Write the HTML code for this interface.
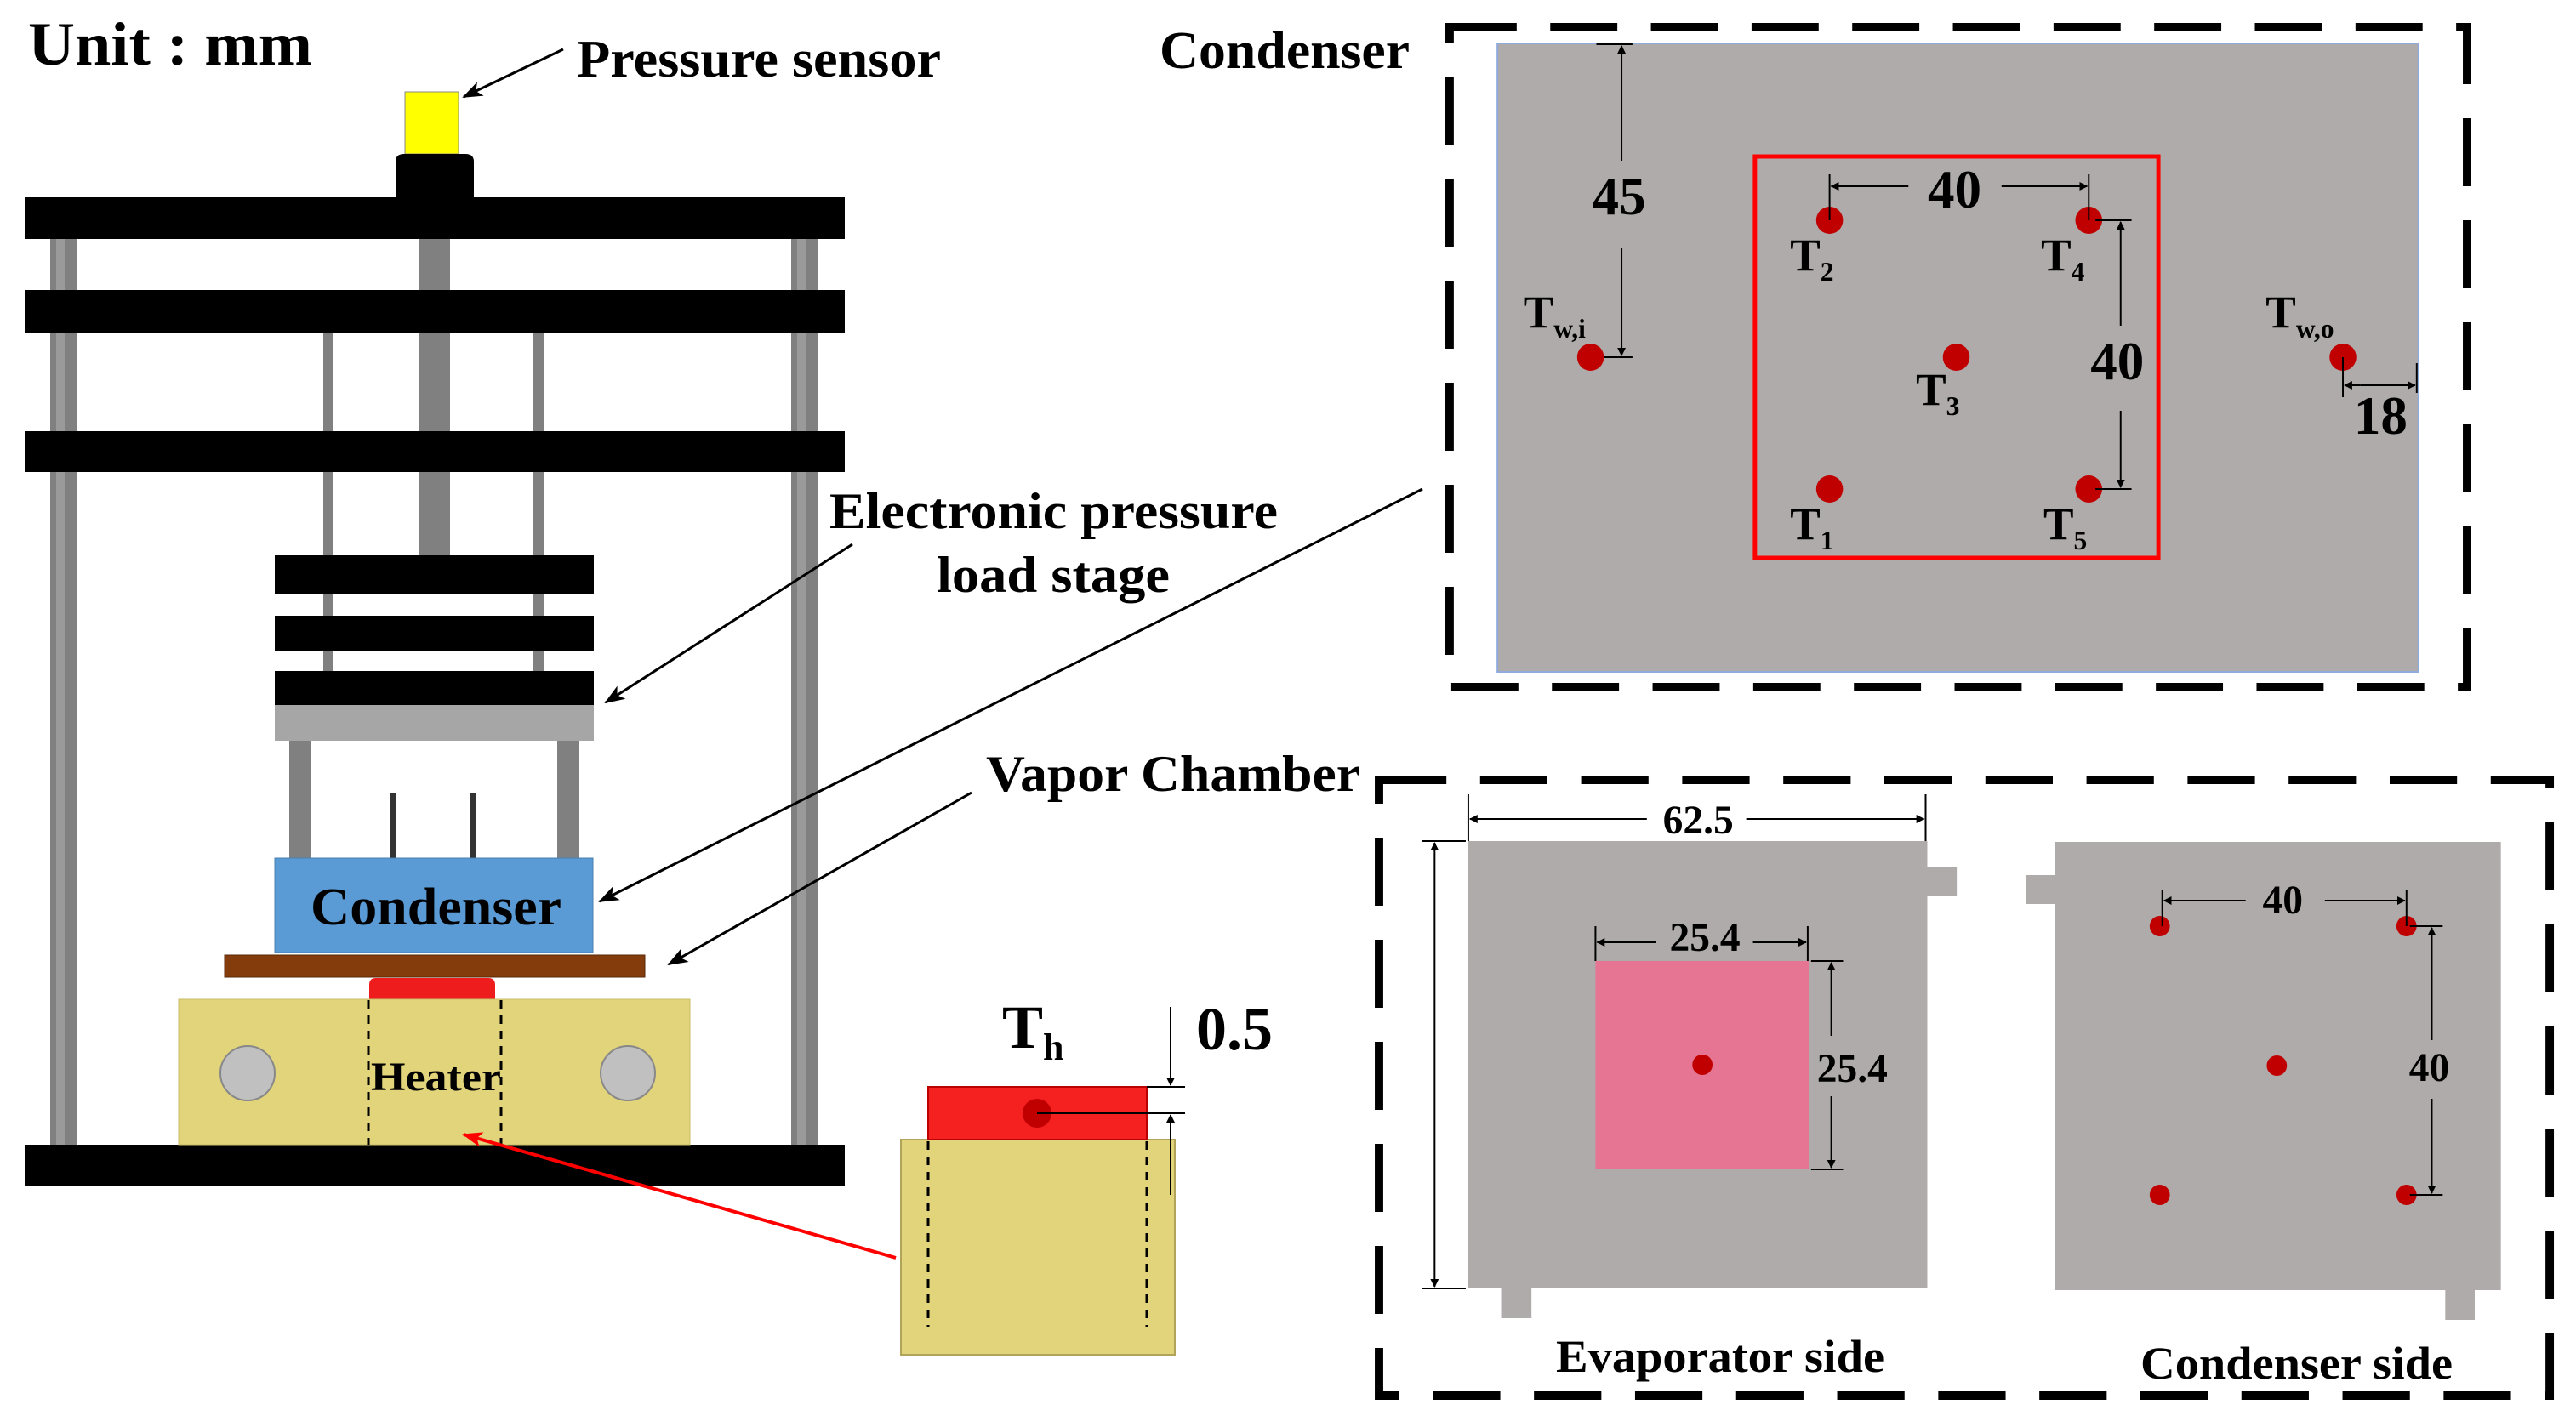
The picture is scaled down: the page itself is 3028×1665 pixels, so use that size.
<!DOCTYPE html>
<html><head><meta charset="utf-8"><style>
html,body{margin:0;padding:0;background:#fff;}
svg{display:block;}
text{font-family:"Liberation Serif",serif;font-weight:bold;fill:#000;}
</style></head><body>
<svg width="3028" height="1665" viewBox="0 0 3028 1665" xmlns="http://www.w3.org/2000/svg">
<defs>
<marker id="ar" markerWidth="10" markerHeight="10" refX="9" refY="5" orient="auto" markerUnits="userSpaceOnUse"><path d="M0,0 L10,5 L0,10 z" fill="#000"/></marker>
<marker id="arb" markerWidth="24" markerHeight="18" refX="22" refY="9" orient="auto" markerUnits="userSpaceOnUse"><path d="M0,0 L24,9 L0,18 L6,9 z" fill="#000"/></marker>
<marker id="arr" markerWidth="24" markerHeight="18" refX="22" refY="9" orient="auto" markerUnits="userSpaceOnUse"><path d="M0,0 L24,9 L0,18 L6,9 z" fill="#f00"/></marker>
</defs>

<!-- LEFT APPARATUS -->
<text x="33" y="76" font-size="72" textLength="334" lengthAdjust="spacingAndGlyphs">Unit : mm</text>
<text x="678" y="90" font-size="62" textLength="428" lengthAdjust="spacingAndGlyphs">Pressure sensor</text>
<line x1="662" y1="58" x2="545" y2="114" stroke="#000" stroke-width="3" marker-end="url(#arb)"/>
<rect x="476" y="108" width="63" height="73" fill="#ffff00" stroke="#888" stroke-width="1"/>
<path d="M465,232 L465,190 Q465,181 475,181 L547,181 Q557,181 557,190 L557,232 z" fill="#000"/>
<rect x="59" y="281" width="31" height="1065" fill="#808080"/>
<rect x="66" y="281" width="10" height="1065" fill="#9a9a9a"/>
<rect x="930" y="281" width="31" height="1065" fill="#808080"/>
<rect x="937" y="281" width="10" height="1065" fill="#9a9a9a"/>
<rect x="493" y="281" width="36" height="372" fill="#808080"/>
<rect x="380" y="391" width="12" height="400" fill="#808080"/>
<rect x="627" y="391" width="12" height="400" fill="#808080"/>
<rect x="29" y="232" width="964" height="49" fill="#000"/>
<rect x="29" y="341" width="964" height="50" fill="#000"/>
<rect x="29" y="507" width="964" height="48" fill="#000"/>
<rect x="29" y="1346" width="964" height="48" fill="#000"/>
<rect x="323" y="653" width="375" height="46" fill="#000"/>
<rect x="323" y="724" width="375" height="41" fill="#000"/>
<rect x="323" y="789" width="375" height="40" fill="#000"/>
<rect x="323" y="829" width="375" height="42" fill="#a6a6a6"/>
<rect x="340" y="871" width="25" height="138" fill="#808080"/>
<rect x="655" y="871" width="26" height="138" fill="#808080"/>
<rect x="459" y="932" width="7" height="77" fill="#333"/>
<rect x="553" y="932" width="7" height="77" fill="#333"/>
<rect x="323" y="1009" width="374" height="111" fill="#5b9bd5" stroke="#4a7fb0" stroke-width="1"/>
<text x="365" y="1087" font-size="62" textLength="295" lengthAdjust="spacingAndGlyphs">Condenser</text>
<rect x="264" y="1123" width="494" height="26" fill="#843c0c" stroke="#5a2a08" stroke-width="1"/>
<path d="M434,1176 L434,1158 Q434,1150 442,1150 L574,1150 Q582,1150 582,1158 L582,1176 z" fill="#ee1c1c"/>
<rect x="210" y="1175" width="601" height="171" fill="#e2d47a" stroke="#c8bb6a" stroke-width="1"/>
<circle cx="291" cy="1262" r="32" fill="#c0c0c0" stroke="#888" stroke-width="2"/>
<circle cx="738" cy="1262" r="32" fill="#c0c0c0" stroke="#888" stroke-width="2"/>
<line x1="433" y1="1176" x2="433" y2="1346" stroke="#000" stroke-width="3" stroke-dasharray="10,8"/>
<line x1="589" y1="1176" x2="589" y2="1346" stroke="#000" stroke-width="3" stroke-dasharray="10,8"/>
<text x="436" y="1282" font-size="48" textLength="153" lengthAdjust="spacingAndGlyphs">Heater</text>

<text x="975" y="621" font-size="60" textLength="527" lengthAdjust="spacingAndGlyphs">Electronic pressure</text>
<text x="1101" y="696" font-size="60" textLength="274" lengthAdjust="spacingAndGlyphs">load stage</text>
<line x1="1002" y1="640" x2="712" y2="826" stroke="#000" stroke-width="3" marker-end="url(#arb)"/>
<line x1="1672" y1="575" x2="705" y2="1060" stroke="#000" stroke-width="3" marker-end="url(#arb)"/>
<text x="1159" y="930" font-size="60" textLength="440" lengthAdjust="spacingAndGlyphs">Vapor Chamber</text>
<line x1="1142" y1="932" x2="786" y2="1134" stroke="#000" stroke-width="3" marker-end="url(#arb)"/>

<rect x="1059" y="1340" width="322" height="253" fill="#e2d47a" stroke="#b0a35a" stroke-width="2"/>
<rect x="1091" y="1278" width="257" height="62" fill="#f52020" stroke="#b00" stroke-width="2"/>
<circle cx="1219" cy="1309" r="17" fill="#c00000"/>
<line x1="1219" y1="1309" x2="1393" y2="1309" stroke="#000" stroke-width="2"/>
<line x1="1348" y1="1278" x2="1393" y2="1278" stroke="#000" stroke-width="2"/>
<line x1="1376" y1="1184" x2="1376" y2="1276" stroke="#000" stroke-width="2" marker-end="url(#ar)"/>
<line x1="1376" y1="1405" x2="1376" y2="1311" stroke="#000" stroke-width="2" marker-end="url(#ar)"/>
<line x1="1091" y1="1342" x2="1091" y2="1560" stroke="#000" stroke-width="3" stroke-dasharray="10,8"/>
<line x1="1348" y1="1342" x2="1348" y2="1560" stroke="#000" stroke-width="3" stroke-dasharray="10,8"/>
<text x="1178" y="1232" font-size="72">T<tspan font-size="44" dy="14">h</tspan></text>
<text x="1406" y="1234" font-size="72">0.5</text>
<line x1="1053" y1="1479" x2="545" y2="1334" stroke="#f00" stroke-width="4" marker-end="url(#arr)"/>

<!-- TOP RIGHT PANEL -->
<text x="1363" y="80" font-size="62" textLength="294" lengthAdjust="spacingAndGlyphs">Condenser</text>
<g transform="translate(1700,0) scale(0.986,1) translate(-1700,0)">
<rect x="1704" y="32" width="1213" height="776" fill="none" stroke="#000" stroke-width="10" stroke-dasharray="80,40"/>
<rect x="1761" y="51" width="1098" height="739" fill="#afabab" stroke="#8faadc" stroke-width="2"/>
<rect x="2068" y="184" width="481" height="472" fill="none" stroke="#ff0000" stroke-width="5"/>
<g fill="#c00000">
<circle cx="2157" cy="259" r="16"/><circle cx="2466" cy="259" r="16"/>
<circle cx="2308" cy="420" r="16"/><circle cx="2157" cy="575" r="16"/>
<circle cx="2466" cy="575" r="16"/><circle cx="1872" cy="420" r="16"/>
<circle cx="2769" cy="420" r="16"/>
</g>
<g font-size="54">
<text x="2110" y="318">T<tspan font-size="32" dy="12">2</tspan></text>
<text x="2409" y="318">T<tspan font-size="32" dy="12">4</tspan></text>
<text x="2260" y="476">T<tspan font-size="32" dy="12">3</tspan></text>
<text x="2110" y="634">T<tspan font-size="32" dy="12">1</tspan></text>
<text x="2412" y="634">T<tspan font-size="32" dy="12">5</tspan></text>
<text x="1792" y="385">T<tspan font-size="32" dy="12">w,i</tspan></text>
<text x="2677" y="385">T<tspan font-size="32" dy="12">w,o</tspan></text>
</g>
<g stroke="#000" stroke-width="2" fill="none">
<line x1="1879" y1="52" x2="1922" y2="52"/>
<line x1="1909" y1="189" x2="1909" y2="54" marker-end="url(#ar)"/>
<line x1="1909" y1="292" x2="1909" y2="418" marker-end="url(#ar)"/>
<line x1="1888" y1="420" x2="1922" y2="420"/>
<line x1="2157" y1="205" x2="2157" y2="259"/>
<line x1="2466" y1="205" x2="2466" y2="259"/>
<line x1="2251" y1="219" x2="2159" y2="219" marker-end="url(#ar)"/>
<line x1="2362" y1="219" x2="2464" y2="219" marker-end="url(#ar)"/>
<line x1="2474" y1="259" x2="2517" y2="259"/>
<line x1="2474" y1="575" x2="2517" y2="575"/>
<line x1="2504" y1="383" x2="2504" y2="261" marker-end="url(#ar)"/>
<line x1="2504" y1="483" x2="2504" y2="573" marker-end="url(#ar)"/>
<line x1="2769" y1="420" x2="2769" y2="467"/>
<line x1="2857" y1="427" x2="2857" y2="462"/>
<line x1="2790" y1="453" x2="2771" y2="453" marker-end="url(#ar)"/>
<line x1="2790" y1="453" x2="2855" y2="453" marker-end="url(#ar)"/>
</g>
<text x="1906" y="252" font-size="64" text-anchor="middle">45</text>
<text x="2306" y="244" font-size="64" text-anchor="middle">40</text>
<text x="2500" y="446" font-size="64" text-anchor="middle">40</text>
<text x="2814" y="510" font-size="64" text-anchor="middle">18</text>
</g>

<!-- BOTTOM RIGHT PANEL -->
<g transform="translate(1620,0) scale(0.99,1) translate(-1620,0)">
<rect x="1621" y="917" width="1390" height="724" fill="none" stroke="#000" stroke-width="10" stroke-dasharray="80,40"/>
<rect x="1727" y="989" width="545" height="526" fill="#afabab"/>
<rect x="2270" y="1019" width="37" height="35" fill="#afabab"/>
<rect x="1766" y="1514" width="36" height="36" fill="#afabab"/>
<rect x="1878" y="1130" width="254" height="245" fill="#e57592"/>
<circle cx="2005" cy="1252" r="12" fill="#c00000"/>
<g transform="translate(-6,0)">
<rect x="2430" y="990" width="529" height="527" fill="#afabab"/>
<rect x="2395" y="1029" width="37" height="34" fill="#afabab"/>
<rect x="2893" y="1516" width="35" height="36" fill="#afabab"/>
<g fill="#c00000">
<circle cx="2554" cy="1089" r="12"/><circle cx="2847" cy="1089" r="12"/>
<circle cx="2693" cy="1253" r="12"/><circle cx="2554" cy="1405" r="12"/>
<circle cx="2847" cy="1405" r="12"/>
</g>
<g stroke="#000" stroke-width="2" fill="none">
<line x1="2557" y1="1047" x2="2557" y2="1089"/>
<line x1="2847" y1="1047" x2="2847" y2="1089"/>
<line x1="2656" y1="1059" x2="2559" y2="1059" marker-end="url(#ar)"/>
<line x1="2750" y1="1059" x2="2845" y2="1059" marker-end="url(#ar)"/>
<line x1="2851" y1="1089" x2="2890" y2="1089"/>
<line x1="2851" y1="1405" x2="2890" y2="1405"/>
<line x1="2877" y1="1223" x2="2877" y2="1091" marker-end="url(#ar)"/>
<line x1="2877" y1="1292" x2="2877" y2="1403" marker-end="url(#ar)"/>
</g>
<text x="2700" y="1074" font-size="48" text-anchor="middle">40</text>
<text x="2874" y="1271" font-size="48" text-anchor="middle">40</text>
</g>
<g stroke="#000" stroke-width="2" fill="none">
<line x1="1727" y1="934" x2="1727" y2="989"/>
<line x1="2270" y1="934" x2="2270" y2="989"/>
<line x1="1939" y1="963" x2="1729" y2="963" marker-end="url(#ar)"/>
<line x1="2057" y1="963" x2="2268" y2="963" marker-end="url(#ar)"/>
<line x1="1672" y1="989" x2="1724" y2="989"/>
<line x1="1672" y1="1515" x2="1724" y2="1515"/>
<line x1="1687" y1="1252" x2="1687" y2="991" marker-end="url(#ar)"/>
<line x1="1687" y1="1252" x2="1687" y2="1513" marker-end="url(#ar)"/>
<line x1="1878" y1="1089" x2="1878" y2="1130"/>
<line x1="2130" y1="1089" x2="2130" y2="1130"/>
<line x1="1950" y1="1108" x2="1880" y2="1108" marker-end="url(#ar)"/>
<line x1="2065" y1="1108" x2="2128" y2="1108" marker-end="url(#ar)"/>
<line x1="2134" y1="1130" x2="2172" y2="1130"/>
<line x1="2134" y1="1375" x2="2172" y2="1375"/>
<line x1="2158" y1="1218" x2="2158" y2="1132" marker-end="url(#ar)"/>
<line x1="2158" y1="1289" x2="2158" y2="1373" marker-end="url(#ar)"/>
</g>
<text x="2000" y="980" font-size="48" text-anchor="middle">62.5</text>
<text x="2008" y="1118" font-size="48" text-anchor="middle">25.4</text>
<text x="2183" y="1272" font-size="48" text-anchor="middle">25.4</text>
</g>
<text x="1829" y="1613" font-size="54" textLength="386" lengthAdjust="spacingAndGlyphs">Evaporator side</text>
<text x="2516" y="1621" font-size="54" textLength="367" lengthAdjust="spacingAndGlyphs">Condenser side</text>
</svg>
</body></html>
